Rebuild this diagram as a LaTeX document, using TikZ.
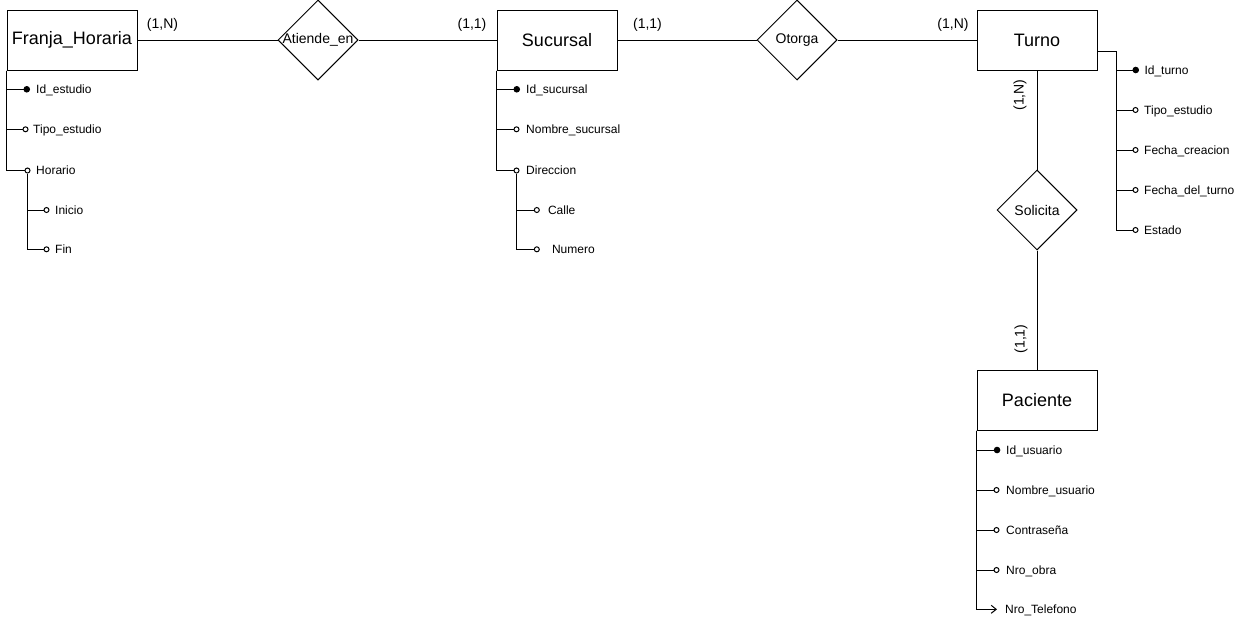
\documentclass[tikz,border=0pt]{standalone}
\usepackage{fontspec}
\setmainfont{Liberation Sans}
\usetikzlibrary{shapes.geometric,arrows.meta}
\tikzset{
 ent/.style={draw, line width=1pt, minimum width=120pt, minimum height=60pt, inner sep=0pt, font=\fontsize{18}{20}\selectfont},
 rel/.style={draw, diamond, line width=1pt, minimum width=80pt, minimum height=80pt, inner sep=0pt},
 rtxt/.style={font=\fontsize{14}{16}\selectfont, inner sep=0pt},
 card/.style={font=\fontsize{14}{16}\selectfont, inner sep=0pt},
 attr/.style={anchor=west, inner xsep=#1, inner ysep=0pt, text height=8.6pt, text depth=0pt, font=\fontsize{12}{14}\selectfont},
 attr/.default=5pt,
 link/.style={line width=1pt},
 key/.style={link, -{Circle[length=6.5pt]}},
 opt/.style={link, -{Circle[open, fill=white, length=6pt]}},
 multi/.style={link, -{Straight Barb[length=5pt,width=8pt]}},
}
\begin{document}
\begin{tikzpicture}[x=1pt,y=-1pt]
\useasboundingbox (0,0) rectangle (1246,625);
% entities
\node[ent, minimum width=130pt] (fh) at (72,40) {Franja\_Horaria};
\node[ent] (suc) at (557,40) {Sucursal};
\node[ent] (tur) at (1037,40) {Turno};
\node[ent] (pac) at (1037,400) {Paciente};
% relationships
\node[rel, label={[rtxt]center:Atiende\_en}] (ae) at (318,40) {};
\node[rel, label={[rtxt]center:Otorga}] (ot) at (797,40) {};
\node[rel, label={[rtxt]center:Solicita}] (so) at (1037,210) {};
% connectors
\draw[link] (fh.east) -- (ae.west);
\draw[link] (ae.east) -- (suc.west);
\draw[link] (suc.east) -- (ot.west);
\draw[link] (ot.east) -- (tur.west);
\draw[link] (tur.south) -- (so.north);
\draw[link] (so.south) -- (pac.north);
% cardinalities
\node[card] (c1) at (162.5,25) {(1,N)};
\node[card] (c2) at (472,25) {(1,1)};
\node[card] (c3) at (647.5,25) {(1,1)};
\node[card] (c4) at (953,25) {(1,N)};
\node[card, rotate=90] (c5) at (1020,95) {(1,N)};
\node[card, rotate=90] (c6) at (1021,339) {(1,1)};
% Franja_Horaria attributes
\node[attr=6pt] (ide) at (30,89.3) {Id\_estudio};
\node[attr=4.5pt] (tpe) at (28.5,129.3) {Tipo\_estudio};
\node[attr=5.5pt] (hor) at (30.5,170.5) {Horario};
\node[attr=5.5pt] (ini) at (49.5,210) {Inicio};
\node[attr=5.5pt] (fin) at (49.5,249.3) {Fin};
\draw[key] (fh.south west) |- (ide.west);
\draw[opt] (fh.south west) |- (tpe.west);
\draw[opt] (fh.south west) |- (hor.west);
\coordinate (horb) at (27.5,173.5);
\draw[opt] (horb) |- (ini.west);
\draw[opt] (horb) |- (fin.west);
% Sucursal attributes
\node[attr=6pt] (ids) at (520,89.3) {Id\_sucursal};
\node[attr=6.5pt] (nos) at (519.5,129.3) {Nombre\_sucursal};
\node[attr=6.5pt] (dir) at (519.5,170.5) {Direccion};
\node[attr=8pt] (cal) at (539.8,210) {Calle};
\node[attr=12pt] (num) at (539.8,249.3) {Numero};
\draw[key] (suc.south west) |- (ids.west);
\draw[opt] (suc.south west) |- (nos.west);
\draw[opt] (suc.south west) |- (dir.west);
\coordinate (dirb) at (516.5,173.5);
\draw[opt] (dirb) |- (cal.west);
\draw[opt] (dirb) |- (num.west);
% Turno attributes
\node[attr=5.3pt] (idt) at (1139,70) {Id\_turno};
\node[attr=5.5pt] (tpt) at (1138.5,110) {Tipo\_estudio};
\node[attr=5.5pt] (fcr) at (1138.5,150) {Fecha\_creacion};
\node[attr=5.5pt] (fdt) at (1138.5,190) {Fecha\_del\_turno};
\node[attr=5.5pt] (est) at (1138.5,230) {Estado};
\coordinate (tb) at (1116.7,51);
\draw[link] ([yshift=-11pt]tur.east) -- (tb);
\draw[key] (tb) |- (idt.west);
\draw[opt] (tb) |- (tpt.west);
\draw[opt] (tb) |- (fcr.west);
\draw[opt] (tb) |- (fdt.west);
\draw[opt] (tb) |- (est.west);
% Paciente attributes
\node[attr=5.7pt] (idu) at (1000.3,450) {Id\_usuario};
\node[attr=6.5pt] (nou) at (999.5,490) {Nombre\_usuario};
\node[attr=6.5pt] (con) at (999.5,530) {Contraseña};
\node[attr=6.5pt] (nro) at (999.5,570) {Nro\_obra};
\node[attr=8pt] (tel) at (997,609.3) {Nro\_Telefono};
\draw[key] (pac.south west) |- (idu.west);
\draw[opt] (pac.south west) |- (nou.west);
\draw[opt] (pac.south west) |- (con.west);
\draw[opt] (pac.south west) |- (nro.west);
\draw[multi] (pac.south west) |- (tel.west);
\end{tikzpicture}
\end{document}
